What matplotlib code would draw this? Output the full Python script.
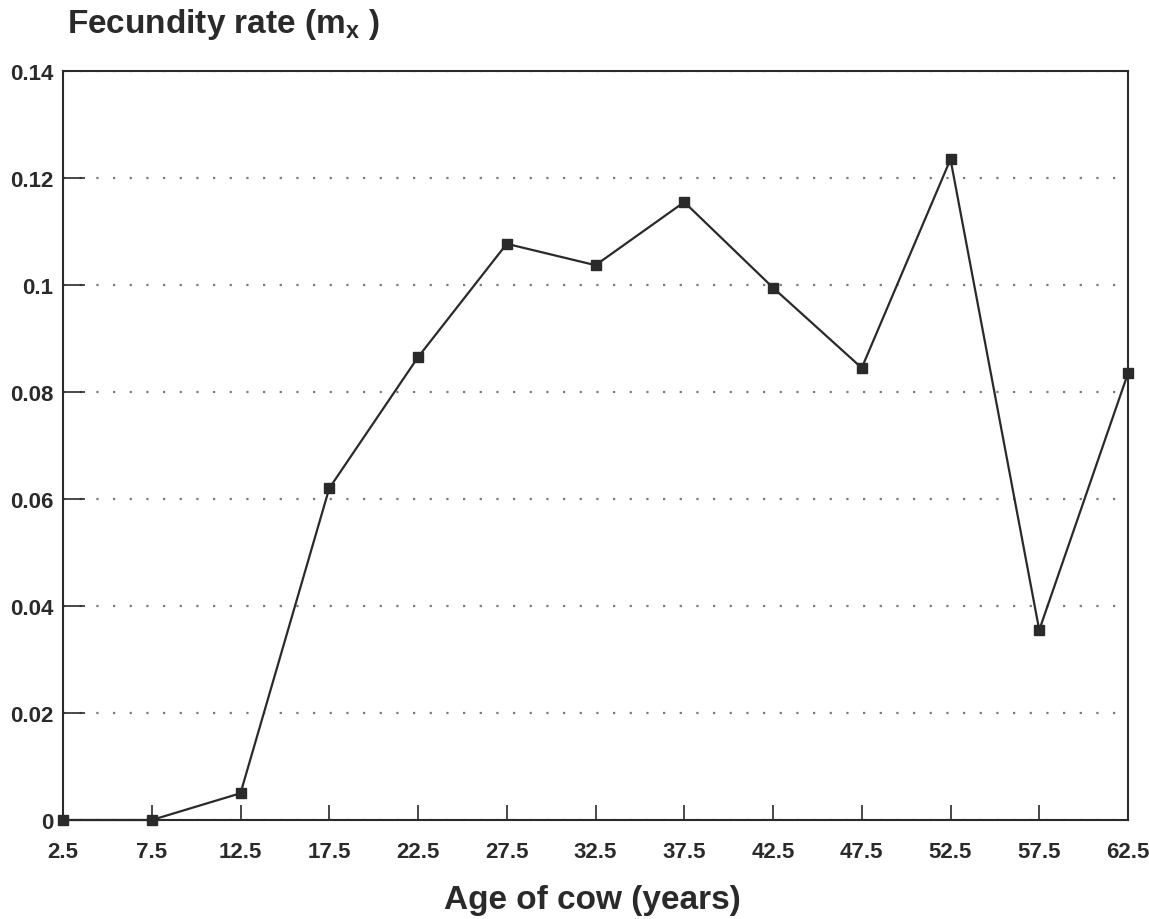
import matplotlib
matplotlib.use("Agg")
import matplotlib.pyplot as plt

# Data
ages = [2.5, 7.5, 12.5, 17.5, 22.5, 27.5, 32.5, 37.5, 42.5, 47.5, 52.5, 57.5, 62.5]
fecundity = [0.0, 0.0, 0.005, 0.062, 0.0865, 0.1077, 0.1037, 0.1155, 0.0995, 0.0845, 0.1235, 0.0355, 0.0835]
y_ticks = [0, 0.02, 0.04, 0.06, 0.08, 0.1, 0.12, 0.14]
y_ticklabels = ["0", "0.02", "0.04", "0.06", "0.08", "0.1", "0.12", "0.14"]
x_ticklabels = ["2.5", "7.5", "12.5", "17.5", "22.5", "27.5", "32.5", "37.5",
                "42.5", "47.5", "52.5", "57.5", "62.5"]

plt.rcParams['font.family'] = ['Liberation Sans', 'DejaVu Sans']
plt.rcParams['mathtext.fontset'] = 'custom'
plt.rcParams['mathtext.bf'] = 'Liberation Sans:bold'
plt.rcParams['mathtext.rm'] = 'Liberation Sans:bold'

ink = '#2a2a2a'
fig = plt.figure(figsize=(11.49, 9.2), dpi=100)
ax = fig.add_axes([63/1149, 1 - 821/920, (1128 - 63)/1149, (821 - 72)/920])

ax.plot(ages, fecundity, color=ink, lw=1.6, marker='s', ms=6.5,
        mfc=ink, mec=ink, clip_on=False, zorder=5)

ax.set_xlim(2.5, 62.5)
ax.set_ylim(0, 0.14)
ax.set_xticks(ages)
ax.set_xticklabels(x_ticklabels)
ax.set_yticks(y_ticks)
ax.set_yticklabels(y_ticklabels)

for lab in ax.get_xticklabels() + ax.get_yticklabels():
    lab.set_fontweight('bold')
    lab.set_color(ink)
ax.tick_params(axis='x', direction='in', length=11, width=1.2, colors=ink,
               labelsize=16, pad=15)
ax.tick_params(axis='y', direction='in', length=16, width=1.2, colors=ink,
               labelsize=16, pad=7)

for s in ax.spines.values():
    s.set_color(ink)
    s.set_linewidth(1.5)

ax.yaxis.grid(True, color='#7a7a7a', linestyle=(0, (1, 6.5)), linewidth=1.6)
ax.xaxis.grid(False)
ax.set_axisbelow(True)

fig.text(67/1149, 1 - 33/920, r'Fecundity rate ($\mathbf{m_{x}}$ )', fontsize=24,
         fontweight='bold', color=ink, ha='left', va='baseline')
fig.text(592/1149, 1 - 909/920, 'Age of cow (years)', fontsize=24,
         fontweight='bold', color=ink, ha='center', va='baseline')

fig.savefig('out.png', dpi=100, facecolor='white')
